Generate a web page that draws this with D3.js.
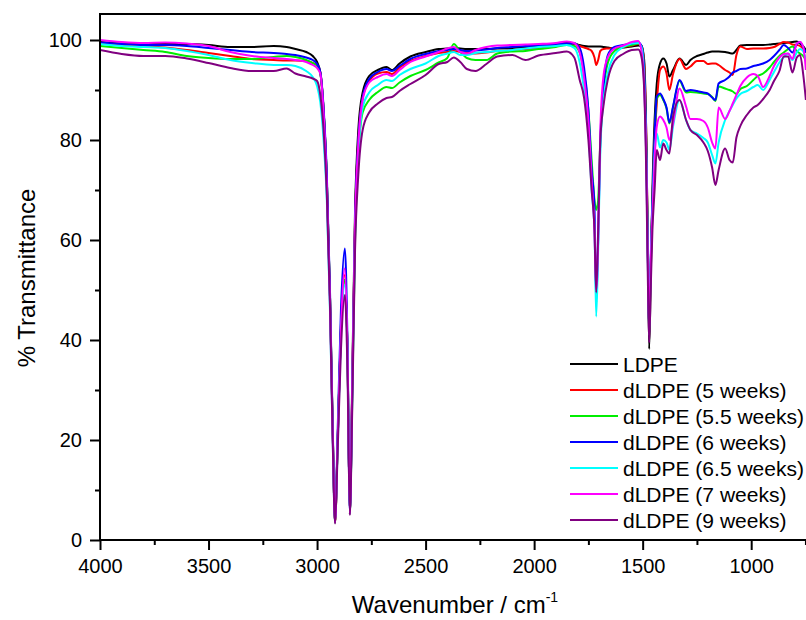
<!DOCTYPE html>
<html>
<head>
<meta charset="utf-8">
<script src="https://cdn.jsdelivr.net/npm/d3@7"></script>
<style>
  body { margin: 0; background: #fff; }
  text { font-family: "Liberation Sans", Arial, sans-serif; fill: #000; }
</style>
</head>
<body>
<svg id="chart"></svg>
<script>
const wavenumbers = [
  4000, 3900, 3800, 3700, 3600, 3500, 3400, 3300, 3200, 3140, 3100, 3050, 3020, 3000,
  2985, 2970, 2955, 2940, 2928, 2917, 2905, 2890, 2872, 2860, 2849, 2838, 2825, 2810,
  2790, 2760, 2720, 2680, 2655, 2620, 2570, 2500,
  2440, 2400, 2370, 2340, 2310, 2270, 2220, 2170, 2100, 2040, 1980, 1900, 1850, 1815,
  1790, 1770, 1750, 1735, 1722, 1714, 1705, 1695, 1680, 1660, 1630, 1590, 1550, 1520, 1505,
  1493, 1483, 1476, 1470, 1463, 1455, 1445, 1435, 1420, 1405, 1390, 1377, 1360, 1330, 1300, 1280,
  1250, 1220, 1200, 1180, 1165, 1150, 1120, 1100, 1085, 1068, 1050, 1020, 990, 970, 945,
  915, 895, 870, 850, 830, 810, 790, 775, 760, 748
];

const ldpe = [
  99.6, 99.3, 99.2, 99.2, 99.2, 99.0, 98.6, 98.6, 98.8, 98.6, 98.2, 97.6, 96.8, 95.6,
  93.5, 86, 72, 48, 22, 3.5, 20, 42, 52, 38, 5.2, 32, 66, 82,
  89.5, 92.8, 94.0, 94.6, 94.0, 95.3, 96.7, 97.6,
  98.2, 98.3, 98.4, 98.3, 98.2, 98.2, 98.2, 98.3, 98.4, 98.6, 98.8, 99.2, 99.5, 99.3,
  99.0, 98.8, 98.7, 98.7, 98.7, 98.7, 98.7, 98.7, 98.6, 98.5, 98.3, 98.5, 98.7, 98.9, 98.8,
  96, 80, 58, 38.2, 52, 70, 84, 91.3, 95.3, 96.3, 95.3, 92.7, 94.0, 96.3, 95.0, 96.0,
  96.8, 97.2, 97.5, 97.7, 97.7, 97.7, 97.6, 97.4, 97.3, 98.0, 98.9, 99.0, 99.0, 99.0, 99.0,
  99.1, 99.2, 99.3, 99.4, 99.5, 99.6, 99.7, 99.3, 98.7, 98.0
];

const weeks5 = [
  99.4, 99.0, 98.8, 98.5, 98.0, 97.4, 96.8, 96.2, 96.0, 95.9, 95.9, 95.8, 95.4, 95.0,
  93.5, 86, 72, 48, 22, 3.5, 20, 43, 53, 38, 5.2, 30, 64, 80,
  88.5, 91.8, 93.3, 93.6, 93.2, 94.5, 95.8, 96.8,
  97.4, 97.6, 97.8, 97.6, 97.4, 97.3, 97.5, 97.8, 98.0, 98.2, 98.3, 98.8, 99.2, 99.2,
  98.8, 98.5, 98.2, 97.8, 96.5, 95.0, 96.0, 97.8, 98.2, 98.3, 98.4, 98.6, 98.9, 99.2, 98.8,
  95, 80, 58, 41, 55, 68, 80, 87.3, 94.0, 94.7, 93.3, 90.0, 93.2, 96.2, 94.2, 94.7,
  95.8, 95.8, 95.2, 95.3, 95.3, 95.0, 94.0, 93.5, 93.0, 97.0, 98.7, 98.2, 98.3, 98.3, 98.3,
  98.4, 98.6, 99.2, 99.6, 99.5, 99.1, 99.0, 98.8, 98.2, 97.5
];

const weeks5_5 = [
  98.8, 98.4, 98.0, 97.6, 96.8, 96.4, 96.2, 96.2, 96.6, 96.8, 96.6, 96.0, 95.4, 94.8,
  93.3, 86, 72, 48, 22, 3.5, 20, 42, 52, 38, 5.2, 28, 60, 77,
  85.5, 88.0, 89.6, 90.6, 90.4, 91.5, 92.8, 94.0,
  95.5, 96.4, 99.2, 97.6, 96.4, 96.0, 96.0, 97.3, 97.7, 97.8, 98.2, 98.6, 99.0, 98.8,
  97.5, 93.5, 86, 76, 68, 66, 68, 80, 90, 95.5, 97.8, 98.6, 99.0, 99.3, 98.8,
  94, 78, 57, 41, 55, 68, 80, 88.3, 89.0, 88.0, 86.3, 83.3, 86.5, 91.8, 89.5, 89.6,
  89.5, 89.3, 89.2, 88.6, 87.8, 90.7, 90.3, 90.0, 89.7, 89.2, 90.2, 90.8, 92.0, 92.8, 93.3,
  94.5, 95.6, 96.8, 97.5, 98.2, 98.7, 97.8, 97.3, 96.8, 96.0
];

const weeks6 = [
  99.5, 99.2, 99.0, 99.0, 98.8, 98.4, 98.0, 97.6, 97.4, 97.2, 97.0, 96.5, 96.0, 95.2,
  93.6, 86.5, 73, 49, 23, 4.0, 22, 46, 58.3, 40, 5.5, 30, 64, 80,
  88.5, 92.2, 93.6, 94.2, 93.8, 94.8, 96.2, 97.2,
  97.8, 98.0, 98.2, 98.0, 97.8, 97.9, 98.1, 98.4, 98.6, 98.8, 98.9, 99.1, 99.3, 99.3,
  98.4, 94.5, 86, 74, 66.5, 47.5, 60, 80, 90.7, 97.0, 98.6, 99.0, 99.3, 99.5, 98.8,
  94, 78, 57, 41.5, 56, 68, 81, 88.7, 89.3, 88.2, 86.5, 83.5, 86.7, 92.0, 89.8, 90.0,
  89.8, 89.5, 89.3, 88.5, 88.0, 91.3, 92.0, 92.7, 93.5, 93.8, 94.2, 94.3, 94.8, 95.0, 95.3,
  96.0, 96.8, 98.0, 99.0, 98.4, 97.5, 99.2, 99.6, 98.5, 97.5
];

const weeks6_5 = [
  99.2, 98.8, 98.6, 98.4, 97.8, 97.0, 96.0, 95.4, 95.0, 95.0, 94.8, 93.8, 92.6, 90.8,
  87.5, 80, 68, 45, 20, 3.5, 19, 41, 51, 37, 5.2, 28, 61, 77,
  86.5, 89.5, 91.0, 92.0, 91.8, 93.0, 94.2, 95.3,
  96.8, 97.3, 97.6, 97.0, 97.0, 97.4, 97.6, 97.8, 98.0, 98.3, 98.6, 98.8, 99.0, 98.4,
  95.5, 90.0, 82, 70, 62, 44.7, 58, 78, 88, 93.5, 97.0, 98.6, 99.3, 99.4, 98.5,
  91.5, 75, 55, 41, 55, 65, 77, 81.3, 78.5, 80.0, 79.5, 78.0, 82.7, 88.0, 84.0, 82.0,
  81.3, 80.4, 79.5, 77.0, 75.3, 79.5, 84.0, 85.8, 87.0, 88.3, 89.2, 89.8, 90.6, 91.0, 90.0,
  92.0, 93.6, 95.5, 96.6, 97.3, 96.0, 97.5, 98.2, 97.7, 96.0
];

const weeks7 = [
  100, 99.6, 99.4, 99.5, 99.3, 98.8, 97.6, 96.8, 96.4, 96.2, 96.0, 95.6, 95.0, 94.4,
  93.2, 85.5, 71, 47, 21, 3.5, 20, 42, 54.3, 38, 5.2, 30, 63, 79,
  88, 91.5, 92.6, 93.2, 92.8, 94.0, 95.6, 96.7,
  97.6, 98.3, 98.6, 97.6, 97.3, 98.0, 98.6, 98.9, 99.0, 99.1, 99.2, 99.4, 99.7, 99.4,
  97.5, 92.5, 84, 72, 62, 50, 60, 82, 93, 96.6, 98.3, 98.9, 99.6, 99.8, 97.6,
  91, 75, 55, 42, 55, 65, 76, 82.7, 84.7, 84.0, 82.5, 80.0, 83.3, 90.3, 86.7, 84.2,
  84.2, 83.8, 82.5, 79.5, 78.3, 86.5, 84.2, 85.8, 87.3, 89.0, 90.8, 92.5, 93.2, 92.8, 90.6,
  92.8, 94.8, 96.5, 97.2, 97.3, 96.2, 99.3, 99.6, 98.6, 94.0
];

const weeks9 = [
  98.0, 97.2, 96.8, 96.8, 96.3, 95.4, 94.4, 93.8, 93.8, 94.3, 93.3, 92.7, 92.3, 91.8,
  89.0, 82, 69, 46, 20, 3.3, 18, 38, 49, 34, 5.0, 26, 58, 73,
  82, 85.5, 87.3, 88.4, 88.6, 89.8, 91.2, 93.0,
  95.2, 95.6, 96.5, 95.6, 94.2, 93.8, 95.2, 96.7, 97.0, 96.0, 96.9, 97.4, 97.7, 96.5,
  92.0, 88.5, 80, 70, 62, 49.5, 62, 80, 87, 92.2, 95.8, 97.2, 98.0, 98.1, 96.5,
  90, 72, 52, 39.5, 50, 62, 70, 78.0, 76.0, 79.3, 78.0, 77.3, 84.7, 88.0, 84.0, 82.0,
  81.0, 79.5, 77.8, 74.5, 71.0, 74.0, 78.3, 76.0, 75.5, 80.5, 82.8, 85.0, 86.5, 87.0, 88.2,
  90.0, 91.8, 93.8, 96.7, 96.7, 93.5, 96.5, 97.0, 93.0, 88.0
];

const seriesNames = [
  "LDPE", "dLDPE (5 weeks)", "dLDPE (5.5 weeks)", "dLDPE (6 weeks)",
  "dLDPE (6.5 weeks)", "dLDPE (7 weeks)", "dLDPE (9 weeks)"
];
const seriesValues = [ldpe, weeks5, weeks5_5, weeks6, weeks6_5, weeks7, weeks9];
const seriesColors = ["#000000", "#ff0000", "#00ee00", "#0000ff", "#00ffff", "#ff00ff", "#800080"];

const xMajorTicks = [4000, 3500, 3000, 2500, 2000, 1500, 1000];
const xMinorTicks = [3750, 3250, 2750, 2250, 1750, 1250, 750];
const yMajorTicks = [0, 20, 40, 60, 80, 100];
const yMinorTicks = [10, 30, 50, 70, 90];

const width = 806;
const height = 620;
const plot = { left: 100, top: 14, right: 807, bottom: 540 };

const svg = d3.select("#chart")
  .attr("width", width)
  .attr("height", height);

const x = d3.scaleLinear()
  .domain([4000, 747.5])
  .range([plot.left, 806]);

const y = d3.scaleLinear()
  .domain([0, 105.2])
  .range([plot.bottom, plot.top]);

svg.append("clipPath")
  .attr("id", "plot-clip")
  .append("rect")
  .attr("x", plot.left)
  .attr("y", plot.top)
  .attr("width", plot.right - plot.left)
  .attr("height", plot.bottom - plot.top);

const line = d3.line()
  .x(d => x(d[0]))
  .y(d => y(d[1]))
  .curve(d3.curveMonotoneX);

// spectra
svg.append("g")
  .attr("clip-path", "url(#plot-clip)")
  .selectAll("path")
  .data(seriesValues)
  .join("path")
  .attr("fill", "none")
  .attr("stroke", (d, i) => seriesColors[i])
  .attr("stroke-width", 2)
  .attr("stroke-linejoin", "round")
  .attr("d", vals => line(vals.map((t, i) => [wavenumbers[i], t])));

// axes
function styleAxis(g) {
  g.select(".domain").remove();
  g.selectAll(".tick line").attr("stroke", "#000").attr("stroke-width", 2);
  g.selectAll(".tick text").style("font-size", "20px").attr("fill", "#000");
}

svg.append("g")
  .attr("transform", `translate(0,${plot.bottom})`)
  .call(d3.axisBottom(x).tickValues(xMajorTicks).tickFormat(d3.format("d"))
    .tickSize(10).tickPadding(9).tickSizeOuter(0))
  .call(styleAxis);

svg.append("g")
  .attr("transform", `translate(0,${plot.bottom})`)
  .call(d3.axisBottom(x).tickValues(xMinorTicks).tickSize(5).tickFormat("").tickSizeOuter(0))
  .call(styleAxis);

svg.append("g")
  .attr("transform", `translate(${plot.left},0)`)
  .call(d3.axisLeft(y).tickValues(yMajorTicks).tickFormat(d3.format("d"))
    .tickSize(10).tickPadding(8).tickSizeOuter(0))
  .call(styleAxis);

svg.append("g")
  .attr("transform", `translate(${plot.left},0)`)
  .call(d3.axisLeft(y).tickValues(yMinorTicks).tickSize(5).tickFormat("").tickSizeOuter(0))
  .call(styleAxis);

// frame
svg.append("rect")
  .attr("x", plot.left)
  .attr("y", plot.top)
  .attr("width", plot.right - plot.left)
  .attr("height", plot.bottom - plot.top)
  .attr("fill", "none")
  .attr("stroke", "#000")
  .attr("stroke-width", 2);

// axis titles
const xTitle = svg.append("text")
  .attr("x", 455)
  .attr("y", 613)
  .attr("text-anchor", "middle")
  .style("font-size", "24px");
xTitle.append("tspan").text("Wavenumber / cm");
xTitle.append("tspan")
  .attr("dy", -11)
  .style("font-size", "14px")
  .text("-1");

svg.append("text")
  .attr("transform", "translate(35,278) rotate(-90)")
  .attr("text-anchor", "middle")
  .style("font-size", "24px")
  .text("% Transmittance");

// legend
const legend = svg.append("g")
  .selectAll("g")
  .data(seriesNames)
  .join("g")
  .attr("transform", (d, i) => `translate(570,${364 + i * 26})`);

legend.append("line")
  .attr("x1", 0)
  .attr("x2", 48)
  .attr("stroke", (d, i) => seriesColors[i])
  .attr("stroke-width", 2);

legend.append("text")
  .attr("x", 53)
  .attr("y", 7.5)
  .style("font-size", "21px")
  .text(d => d);
</script>
</body>
</html>
